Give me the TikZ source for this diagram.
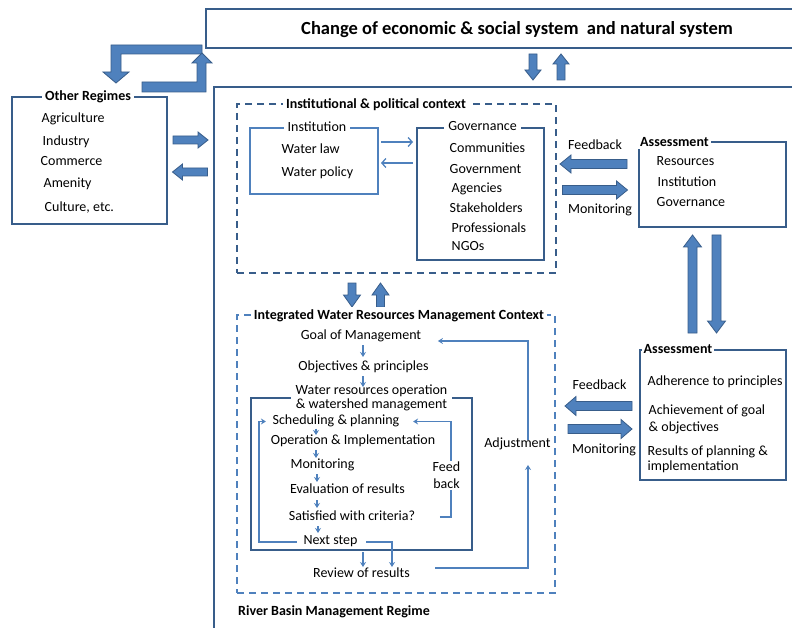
\documentclass[tikz,border=0pt]{standalone}
\usepackage{fontspec}
\setmainfont{Carlito}
\usetikzlibrary{arrows.meta,calc}
\definecolor{dk}{HTML}{385D8A}
\definecolor{lt}{HTML}{4F81BD}
\tikzset{
  frame/.style={draw=dk,line width=1.4pt},
  lframe/.style={draw=lt,line width=1.4pt},
  dframe/.style={draw=dk,line width=1.4pt,dash pattern=on 7pt off 5pt},
  ldframe/.style={draw=lt,line width=1.4pt,dash pattern=on 7pt off 5pt},
  boxnode/.style={anchor=north west,inner sep=0pt,outer sep=0pt},
  txt/.style={font=\fontsize{14}{16}\selectfont,inner sep=0.5pt,text height=9.5pt,text depth=3pt},
  ltxt/.style={txt,anchor=west},
  ttl/.style={font=\fontsize{14}{16}\selectfont\bfseries,fill=white,inner sep=3pt},
  sa/.style={draw=lt,line width=1.3pt,-{Stealth[length=5pt,width=6pt]}},
  oa/.style={draw=lt,line width=1.3pt,-{Straight Barb[length=4pt,width=9pt]}},
  bent/.style={fill=lt,draw=dk,line width=0.8pt,line join=miter},
  pics/barrow/.style args={#1/#2/#3/#4}{code={
    \filldraw[bent] ({-#1/2},{-#2/2}) -- ({#1/2-#4},{-#2/2}) -- ({#1/2-#4},{-#3/2})
      -- ({#1/2},0) -- ({#1/2-#4},{#3/2}) -- ({#1/2-#4},{#2/2}) -- ({-#1/2},{#2/2}) -- cycle;
  }},
}
\begin{document}
\begin{tikzpicture}[x=1pt,y=-1pt]
\useasboundingbox (0,0) rectangle (792,628);
\clip (0,0) rectangle (792,628);

% top system box
\draw[frame] (206,9) rectangle (810,48);
\node[font=\fontsize{18.5}{21}\selectfont\bfseries,inner sep=0pt] (chg) at (517,30) {Change of economic \& social system\ \ and natural system};
\pic[rotate=270] (dA) at (533,67) {barrow=26/8/16/10};
\pic[rotate=90] (uA) at (561,67) {barrow=26/8/16/10};

% river basin regime frame
\draw[frame] (214,650) -- (214,87) -- (810,87);
\node[ttl,anchor=west,fill=none,inner sep=0pt] (rbm) at (238,612) {River Basin Management Regime};

% bent arrows
\filldraw[bent] (202,45) -- (111,45) -- (111,72) -- (103,72) -- (116,83) -- (129,72) -- (121,72) -- (121,54) -- (202,54) -- cycle;
\filldraw[bent] (142,82) -- (197,82) -- (197,63) -- (192,63) -- (202,53) -- (212,63) -- (206,63) -- (206,92) -- (142,92) -- cycle;

% other regimes
\node[frame,boxnode,minimum width=155,minimum height=127] (orbox) at (12,97) {};
\node[ttl] (ort) at (88,97) {Other Regimes};
\node[ltxt] (agr) at (41,119) {Agriculture};
\node[ltxt] (ind) at (42,142) {Industry};
\node[ltxt] (com) at (40,162) {Commerce};
\node[ltxt] (ame) at (43,184) {Amenity};
\node[ltxt] (cul) at (44,208) {Culture, etc.};
\pic (oRa) at (190.5,140) {barrow=35/8/16/10};
\pic[rotate=180] (oLa) at (190,172) {barrow=35/8/16/10};

% institutional & political context
\node[dframe,boxnode,minimum width=319,minimum height=169] (ipcbox) at (237,104) {};
\node[ttl] (ipct) at (376,105) {Institutional \& political context};
\node[lframe,boxnode,minimum width=128,minimum height=66] (instbox) at (250,128) {};
\node[txt,fill=white,inner xsep=4pt] (instt) at (317,128) {Institution};
\node[ltxt] (wlaw) at (281,150) {Water law};
\node[ltxt] (wpol) at (281,173) {Water policy};
\node[frame,boxnode,minimum width=127,minimum height=132] (govbox) at (417,128) {};
\node[txt,fill=white,inner xsep=4pt] (govt) at (482.5,127) {Governance};
\node[ltxt] (g1) at (449,149) {Communities};
\node[ltxt] (g2) at (449,170) {Government};
\node[ltxt] (g3) at (451,189) {Agencies};
\node[ltxt] (g4) at (449,209) {Stakeholders};
\node[ltxt] (g5) at (451,229) {Professionals};
\node[ltxt] (g6) at (451,247) {NGOs};
\draw[oa] ($(instbox.north east)+(3,14)$) -- ($(govbox.north west)+(-4,14)$);
\draw[oa] ($(govbox.north west)+(-4,35)$) -- ($(instbox.north east)+(3,35)$);

% assessment 1
\node[frame,boxnode,minimum width=147,minimum height=85] (as1) at (639,142) {};
\node[ttl,inner sep=2pt] (as1t) at (674.5,142) {Assessment};
\node[ltxt] (r1) at (656,162) {Resources};
\node[ltxt] (r2) at (657,183) {Institution};
\node[ltxt] (r3) at (656,203) {Governance};
\node[txt] (fb1) at (595,146) {Feedback};
\node[txt] (mo1) at (600,210) {Monitoring};
\pic[rotate=180] (fbA1) at (593.5,164) {barrow=67/9/18/11};
\pic (moA1) at (595,190) {barrow=65/9/18/11};

% vertical arrows between assessments
\pic[rotate=90] (vu) at (692.5,284) {barrow=98/9/18/12};
\pic[rotate=270] (vd) at (716.5,284) {barrow=98/9/18/12};

% middle arrows
\pic[rotate=270] (md) at (352,295) {barrow=24/8/17/12};
\pic[rotate=90] (mu) at (380.5,295) {barrow=24/8/17/12};

% IWRM context
\node[ldframe,boxnode,minimum width=318,minimum height=278] (iwbox) at (237,315) {};
\node[ttl] (iwt) at (399,316) {Integrated Water Resources Management Context};
\node[txt] (goal) at (361,336) {Goal of Management};
\node[txt] (obj) at (363.5,367) {Objectives \& principles};
\node[frame,boxnode,minimum width=221,minimum height=152] (inbox) at (251,398) {};
\node[font=\fontsize{14}{13.5}\selectfont,align=center,fill=white,inner xsep=5pt,inner ysep=0pt] (wr) at (371.5,398) {Water resources operation\\\& watershed management};
\node[txt] (sched) at (336,421.5) {Scheduling \& planning};
\node[txt] (op) at (353,441) {Operation \& Implementation};
\node[txt] (mon) at (322.5,465) {Monitoring};
\node[txt] (eval) at (347.5,490) {Evaluation of results};
\node[txt] (sat) at (352,517) {Satisfied with criteria?};
\node[txt] (next) at (330.5,541) {Next step};
\node[txt] (rev) at (361.5,574) {Review of results};
\node[txt] (adj) at (517.5,444) {Adjustment};

\coordinate (c316) at (316,0);
\coordinate (c317) at (317,0);
\coordinate (c318) at (318,0);
\coordinate (c363) at (363,0);

\draw[sa] ($(c363 |- goal.center)+(0,9)$) -- ($(c363 |- obj.center)+(0,-10)$);
\draw[sa] ($(c363 |- obj.center)+(0,9)$) -- ($(c363 |- wr.north)+(0,2)$);
\draw[sa] ($(c316 |- sched.center)+(0,7)$) -- ($(c316 |- op.center)+(0,-6)$);
\draw[sa] ($(c316 |- op.center)+(0,9)$) -- ($(c316 |- mon.center)+(0,-7)$);
\draw[sa] ($(c317 |- mon.center)+(0,9)$) -- ($(c317 |- eval.center)+(0,-8)$);
\draw[sa] ($(c317 |- eval.center)+(0,10)$) -- ($(c317 |- sat.center)+(0,-9)$);
\draw[sa] ($(c318 |- sat.center)+(0,9)$) -- ($(c318 |- next.center)+(0,-8)$);

% loops
\draw[sa] ($(next.west)+(-6,1)$) -| ($(sched.west)+(-13,0)$) -- ($(sched.west)+(-6,0)$);
\draw[sa] ($(sat.east)+(24,0)$) -| ($(sched.east)+(51,0)$) -- ($(sched.east)+(13,0)$);
\node[font=\fontsize{14}{17}\selectfont,align=center,fill=white,inner sep=1pt] (fbk) at (446.5,475.5) {Feed\\back};
\draw[sa] ($(next.east)+(8,1)$) -| ($(rev.north)+(30.5,0)$);
\draw[sa] ($(inbox.south)+(1.5,2)$) -- ($(rev.north)+(1.5,0)$);
\draw[sa] ($(rev.east)+(25,-6)$) -| ($(adj.south)+(10.5,14)$);
\draw[sa] ($(adj.north)+(10.5,3)$) |- ($(goal.east)+(16,5)$);

% assessment 2
\node[frame,boxnode,minimum width=146,minimum height=130] (as2) at (640,350) {};
\node[ttl,inner sep=2pt] (as2t) at (678,349) {Assessment};
\node[ltxt] (p1) at (647,382) {Adherence to principles};
\node[ltxt] (p2) at (648,411) {Achievement of goal};
\node[ltxt] (p3) at (648,428) {\& objectives};
\node[ltxt] (p4) at (647,452) {Results of planning \&};
\node[ltxt] (p5) at (647,467) {implementation};
\node[txt] (fb2) at (599.5,386) {Feedback};
\node[txt] (mo2) at (604,450) {Monitoring};
\pic[rotate=180] (fbA2) at (598.5,406) {barrow=67/9/19/11};
\pic (moA2) at (600,429) {barrow=64/9/19/11};
\end{tikzpicture}
\end{document}
